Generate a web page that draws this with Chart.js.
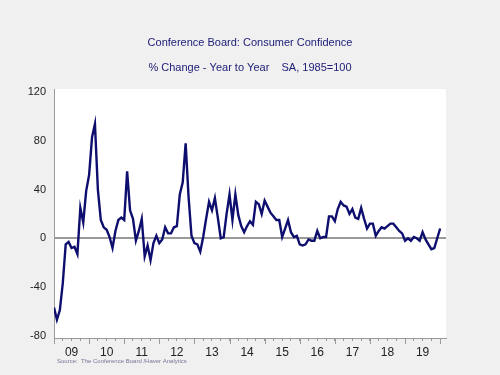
<!DOCTYPE html>
<html>
<head>
<meta charset="utf-8">
<title>Conference Board: Consumer Confidence</title>
<script src="https://cdn.jsdelivr.net/npm/chart.js@4.4.1/dist/chart.umd.min.js"></script>
<style>
  html, body { margin:0; padding:0; background:#f0f0f0; }
  #wrap { width:500px; height:375px; }
</style>
</head>
<body>
<div id="wrap"><canvas id="cc" width="500" height="375"></canvas></div>
<script>
/* Consumer confidence, % change year to year, monthly Jan 2009 - Jan 2020
   (values read off the reference chart) */
const yearLabels = ['09','10','11','12','13','14','15','16','17','18','19'];

const y2009 = [-57, -67, -59, -37, -5, -3, -8, -7, -13, 25, 13, 39];
const y2010 = [52, 83, 94, 40, 15, 9, 7, 1, -8, 6, 15, 17];
const y2011 = [15, 55, 23, 16, -2, 6, 16, -15, -6, -18, -4, 2];
const y2012 = [-4, -1, 9, 4, 4, 9, 10, 36, 46, 78, 34, 2];
const y2013 = [-4, -5, -11, 1, 16, 30, 23, 33, 17, 0, 1, 20];
const y2014 = [36, 15, 36, 19, 10, 5, 10, 14, 11, 30, 28, 20];
const y2015 = [31, 26, 21, 18, 15, 15, 1, 8, 15, 5, 1, 2];
const y2016 = [-5, -6, -5, -1, -2, -2, 6, 0, 1, 1, 18, 18];
const y2017 = [14, 24, 30, 27, 26, 20, 24, 17, 16, 25, 16, 8];
const y2018 = [12, 12, 2, 6, 9, 8, 10, 12, 12, 9, 6, 4];
const y2019 = [-2, 0, -2, 1, 0, -2, 5, -1, -5, -9, -8, 0];
const y2020 = [8];

const values = [].concat(y2009, y2010, y2011, y2012, y2013, y2014,
                         y2015, y2016, y2017, y2018, y2019, y2020);

const yTicks = [-80, -40, 0, 40, 80, 120];

const navy = '#0e0e6e';
const axisGrey = '#9a9a9a';
const baseFont = '"Liberation Sans", Arial, sans-serif';

// white plot panel, longer year ticks, source note
const panelPlugin = {
  id: 'panel',
  beforeDraw(chart){
    const {ctx, chartArea:a} = chart;
    ctx.save();
    ctx.fillStyle = '#ffffff';
    ctx.fillRect(a.left, a.top, a.right - a.left, a.bottom - a.top);
    ctx.restore();
  },
  afterDraw(chart){
    const {ctx, chartArea:a} = chart;
    const x = chart.scales.x;
    ctx.save();
    ctx.strokeStyle = axisGrey;
    ctx.lineWidth = 1;
    for(let m = 0; m <= values.length; m += 12){
      const px = Math.round(x.getPixelForValue(m)) + 0.5;
      ctx.beginPath();
      ctx.moveTo(px, a.bottom);
      ctx.lineTo(px, a.bottom + 6);
      ctx.stroke();
    }
    ctx.fillStyle = '#76769a';
    ctx.font = '6px ' + baseFont;
    ctx.textBaseline = 'middle';
    ctx.fillText('Source:  The Conference Board /Haver Analytics', 57, 361);
    ctx.restore();
  }
};

new Chart(document.getElementById('cc'), {
  type: 'line',
  data: {
    datasets: [{
      data: values.map((v, i) => ({x: i, y: v})),
      borderColor: navy,
      borderWidth: 2.4,
      pointRadius: 0,
      tension: 0,
      fill: false
    }]
  },
  options: {
    responsive: false,
    animation: false,
    devicePixelRatio: 1,
    layout: { padding: 0 },
    plugins: {
      legend: { display: false },
      tooltip: { enabled: false },
      title: {
        display: true,
        text: 'Conference Board: Consumer Confidence',
        color: '#20207a',
        font: { family: baseFont, size: 11, weight: 'normal' },
        padding: { top: 36.7, bottom: 5 }
      },
      subtitle: {
        display: true,
        text: '% Change - Year to Year    SA, 1985=100',
        color: '#20207a',
        font: { family: baseFont, size: 11, weight: 'normal' },
        padding: { top: 6.8, bottom: 14.1 }
      }
    },
    scales: {
      x: {
        type: 'linear',
        min: 0,
        max: 134,
        afterBuildTicks: s => {
          const t = [];
          for(let m = 0; m <= 132; m += 3) t.push({value: m});
          s.ticks = t;
        },
        afterFit: s => { s.height = 37; },
        ticks: {
          autoSkip: false,
          maxRotation: 0,
          padding: 4,
          color: '#222',
          font: { family: baseFont, size: 12 },
          callback: v => (v % 12 === 6 ? yearLabels[(v - 6) / 12] : '')
        },
        grid: {
          drawOnChartArea: false,
          drawTicks: true,
          tickLength: 3,
          tickColor: axisGrey,
          color: axisGrey
        },
        border: { display: true, color: axisGrey, width: 1 }
      },
      y: {
        min: -82,
        max: 122.7,
        afterBuildTicks: s => { s.ticks = yTicks.map(v => ({value: v})); },
        afterFit: s => { s.width = 54; },
        ticks: {
          padding: 8,
          color: '#222',
          font: { family: baseFont, size: 11 }
        },
        grid: {
          drawTicks: false,
          color: c => (c.tick && c.tick.value === 0 ? axisGrey : 'rgba(0,0,0,0)'),
          lineWidth: c => (c.tick && c.tick.value === 0 ? 2 : 0)
        },
        border: { display: true, color: axisGrey, width: 1 }
      },
      // empty right-hand axis that only reserves the grey margin
      yRight: {
        position: 'right',
        min: -82,
        max: 122.7,
        afterFit: s => { s.width = 54; },
        ticks: { display: false },
        grid: { display: false, drawTicks: false },
        border: { display: false }
      }
    }
  },
  plugins: [panelPlugin]
});
</script>
</body>
</html>
